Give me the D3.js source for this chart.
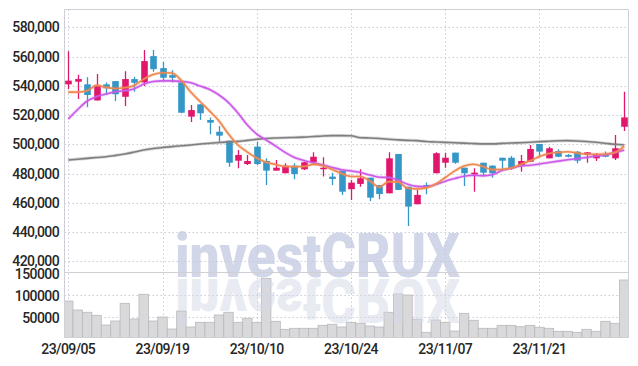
<!DOCTYPE html>
<html><head><meta charset="utf-8">
<script src="https://cdn.jsdelivr.net/npm/d3@7"></script>
<style>
html,body{margin:0;padding:0;background:#fff;}
svg{display:block;}
text{font-family:Roboto,"Noto Sans",sans-serif;}
</style></head><body>
<svg id="chart" width="638" height="366"></svg>
<script>
const dates = ["23/09/05","23/09/06","23/09/07","23/09/08","23/09/11","23/09/12","23/09/13","23/09/14","23/09/15","23/09/18",
"23/09/19","23/09/20","23/09/21","23/09/22","23/09/25","23/09/26","23/09/27","23/10/04","23/10/05","23/10/06",
"23/10/10","23/10/11","23/10/12","23/10/13","23/10/16","23/10/17","23/10/18","23/10/19","23/10/20","23/10/23",
"23/10/24","23/10/25","23/10/26","23/10/27","23/10/30","23/10/31","23/11/01","23/11/02","23/11/03","23/11/06",
"23/11/07","23/11/08","23/11/09","23/11/10","23/11/13","23/11/14","23/11/15","23/11/16","23/11/17","23/11/20",
"23/11/21","23/11/22","23/11/23","23/11/24","23/11/27","23/11/28","23/11/29","23/11/30","23/12/01","23/12/04"];
const open  = [541000,542800,541000,530000,541000,543200,532500,544600,542300,560300,552100,547300,542300,518900,527300,516600,508600,502500,488800,486500,498400,488600,482000,480200,485400,482900,487700,482900,477900,482000,469300,472900,477200,472200,466500,493400,471000,459000,472200,480200,487400,494300,484000,479500,487400,485400,490800,490800,485400,488100,500200,490400,495400,492700,494900,492700,490400,492700,490400,512000];
const high  = [563700,547500,545800,548000,542300,543200,550000,546200,564400,564400,556400,550700,543900,526800,527300,518400,512500,502500,496100,492700,501800,490400,489300,487000,487000,488000,494500,491100,480600,482000,475600,482900,477200,472200,494500,493400,471000,468800,473800,494500,494300,494300,484000,483600,487400,485700,490800,492000,492700,499500,500200,498400,496600,493400,495400,494500,494000,495000,506400,535900];
const low   = [537800,531000,525300,530000,534000,529600,526200,535900,539800,549600,543900,542300,521200,515200,516600,506800,501800,484700,483600,485900,485900,472200,482000,480200,476100,482500,485900,477900,472200,465400,462000,471000,461300,462400,466500,468800,444200,459000,465900,480200,484000,486700,471500,467600,477900,477200,482900,482500,481300,488100,491500,490400,491100,491100,487000,487400,488600,491100,489300,509100];
const close = [543500,544600,533700,540500,538300,534200,544600,542100,556900,551400,545500,545500,521600,523400,521200,514800,505900,487400,492700,488600,486500,482000,484000,485400,479700,487700,491500,484000,476300,467600,473800,476800,463500,466000,490400,468800,457400,465400,471000,493900,490800,487400,480200,480600,480600,480200,488800,483600,488600,496800,495000,497300,491500,491500,488800,494500,493400,491500,497300,518400];
const volume = [87000,66600,61400,54500,32500,41600,81800,46100,102300,41600,50700,23400,64300,28000,38600,38600,55200,61400,38600,47700,38600,138600,40900,22700,25000,25000,25000,31800,34100,28000,38600,36400,30200,27900,61400,103000,100700,45500,15900,43900,38600,18900,59100,43200,25000,25000,31800,31800,28600,31800,27300,25000,18200,18200,15900,22700,18200,40900,36400,134800];
const ma5  = [535700,535700,536600,540300,538900,538200,538700,540200,544600,547700,548900,548700,543600,535700,529100,522700,515900,507000,499500,494700,490600,487700,486200,484800,484700,484800,486300,485400,482800,480100,478000,478000,474900,470800,474500,474300,470000,469500,470200,472900,477300,481800,485200,486400,484800,482700,482800,483800,486200,488700,491700,493700,494500,494900,494100,493200,493200,493400,494400,498800];
const ma20 = [517300,523800,529600,532600,534400,535900,536600,538000,541200,542900,543400,543400,543000,542100,539800,537500,533700,528500,521400,513200,507000,502900,498800,494500,491000,488900,487400,485900,484200,482600,481800,480700,479000,477500,477300,475400,472700,471200,471000,472500,474800,476600,478200,478800,478500,479200,482100,483600,485200,485700,486500,487500,488500,489400,490200,491000,492000,492700,494400,496100];
const ma60 = [489300,489800,490400,491000,491500,492400,493400,494700,496100,497100,497800,498400,499000,499500,500200,500700,501200,501600,502000,502700,503400,504000,504300,504500,504700,504900,505300,505700,505900,505900,505800,504500,504300,504000,503500,503000,502700,502500,501900,501600,501300,501100,500800,500500,500300,500300,500600,500900,501100,501400,501800,502100,502400,502500,502300,501900,501400,500700,500000,499500];
const priceTicks = [420000,440000,460000,480000,500000,520000,540000,560000,580000];
const volTicks = [50000,100000,150000];
const dateTickIdx = [0,10,20,30,40,50];
const watermark = "investCRUX";

const svg = d3.select("#chart");
const L = 64.5, R = 628.5, T = 9.5, MID = 272.5, B = 337.5;
const x = d3.scalePoint().domain(d3.range(dates.length)).range([68.3, 624.3]);
const step = x.step();
const y = d3.scaleLinear().domain([420000, 580000]).range([261.3, 27.3]);
const yv = d3.scaleLinear().domain([0, 150000]).range([339.3, 273.3]);

const defs = svg.append("defs");
defs.append("clipPath").attr("id","cp").append("rect").attr("x",L).attr("y",T).attr("width",R-L).attr("height",MID-T);
defs.append("clipPath").attr("id","cv").append("rect").attr("x",L).attr("y",MID).attr("width",R-L).attr("height",B-MID);

const gridC = "#c6cbd8";
svg.append("g").selectAll("line").data(priceTicks).join("line")
  .attr("x1",L).attr("x2",R).attr("y1",d=>Math.round(y(d))+0.5).attr("y2",d=>Math.round(y(d))+0.5)
  .attr("stroke",gridC).attr("stroke-dasharray","1.5,2.5");
svg.append("g").selectAll("line").data(volTicks.slice(0,2)).join("line")
  .attr("x1",L).attr("x2",R).attr("y1",d=>Math.round(yv(d))+0.5).attr("y2",d=>Math.round(yv(d))+0.5)
  .attr("stroke",gridC).attr("stroke-dasharray","1.5,2.5");
svg.append("g").selectAll("line").data(dateTickIdx).join("line")
  .attr("x1",d=>Math.round(x(d))+0.5).attr("x2",d=>Math.round(x(d))+0.5).attr("y1",T).attr("y2",B)
  .attr("stroke",gridC).attr("stroke-dasharray","1.5,2.5");

// volume bars
svg.append("g").attr("clip-path","url(#cv)").selectAll("rect").data(volume).join("rect")
  .attr("x",(d,i)=>x(i)-step/2).attr("width",step)
  .attr("y",d=>yv(d)).attr("height",d=>yv(0)-yv(d))
  .attr("fill","#d9d9db").attr("stroke","#b9b9bd").attr("stroke-width",0.8);

// candles
const UP = "#e0176c", DN = "#3497c8";
const cg = svg.append("g").attr("clip-path","url(#cp)");
const idx = d3.range(dates.length);
cg.selectAll("line.w").data(idx).join("line").attr("class","w")
  .attr("x1",i=>Math.round(x(i))+0.5).attr("x2",i=>Math.round(x(i))+0.5)
  .attr("y1",i=>y(high[i])).attr("y2",i=>y(low[i]))
  .attr("stroke",i=>close[i]>=open[i]?UP:DN).attr("stroke-width",1.3);
cg.selectAll("rect.b").data(idx).join("rect").attr("class","b")
  .attr("x",i=>Math.round(x(i))+0.5-3.3).attr("width",6.6)
  .attr("y",i=>y(Math.max(open[i],close[i])))
  .attr("height",i=>Math.max(1.5, Math.abs(y(open[i])-y(close[i]))))
  .attr("fill",i=>close[i]>=open[i]?UP:DN);

// MA lines
const line = arr => d3.line().x((d,i)=>x(i)).y(d=>y(d)).curve(d3.curveMonotoneX)(arr);
const lg = svg.append("g").attr("clip-path","url(#cp)");
[[ma60,"#7f7f7f"],[ma20,"#cc5ae9"],[ma5,"#ee8850"]].forEach(([a,c])=>{
  lg.append("path").attr("d",line(a)).attr("fill","none").attr("stroke",c).attr("stroke-opacity",0.3).attr("stroke-width",3.2);
  lg.append("path").attr("d",line(a)).attr("fill","none").attr("stroke",c).attr("stroke-width",1.6);
});

// watermark
const wm = svg.append("g").attr("pointer-events","none");
wm.append("text").attr("x",175).attr("y",277).text(watermark)
  .attr("font-size",62).attr("font-weight",900).attr("textLength",285).attr("lengthAdjust","spacingAndGlyphs")
  .attr("fill","#bfc7df").attr("fill-opacity",0.72);
wm.append("text").attr("x",175).attr("y",-279).attr("transform","scale(1,-1)").text(watermark)
  .attr("font-size",62).attr("font-weight",900).attr("textLength",285).attr("lengthAdjust","spacingAndGlyphs")
  .attr("fill","#d3d8e8").attr("fill-opacity",0.5);

// frame
const fr = svg.append("g").attr("stroke","#cfcfd4").attr("fill","none");
fr.append("line").attr("x1",L).attr("x2",R).attr("y1",T).attr("y2",T);
fr.append("line").attr("x1",R).attr("x2",R).attr("y1",T).attr("y2",B);
fr.append("line").attr("x1",L).attr("x2",L).attr("y1",T).attr("y2",B);
fr.append("line").attr("x1",L).attr("x2",R).attr("y1",MID).attr("y2",MID);
fr.append("line").attr("x1",L).attr("x2",R).attr("y1",B).attr("y2",B);

// axes
const fmt = d3.format(",");
const ax = svg.append("g").attr("font-size",14).attr("fill","#262626").attr("font-weight",500).attr("letter-spacing","-0.6");
ax.selectAll("text.p").data(priceTicks).join("text").attr("class","p")
  .attr("x",59).attr("y",d=>y(d)).attr("dy","0.36em").attr("text-anchor","end").text(d=>fmt(d));
ax.selectAll("text.v").data(volTicks).join("text").attr("class","v")
  .attr("x",59).attr("y",d=>yv(d)+1).attr("dy","0.36em").attr("text-anchor","end").text(d=>d);
ax.selectAll("text.d").data(dateTickIdx).join("text").attr("class","d")
  .attr("x",d=>x(d)).attr("y",354).attr("text-anchor","middle").text(d=>dates[d]);
</script></body></html>
